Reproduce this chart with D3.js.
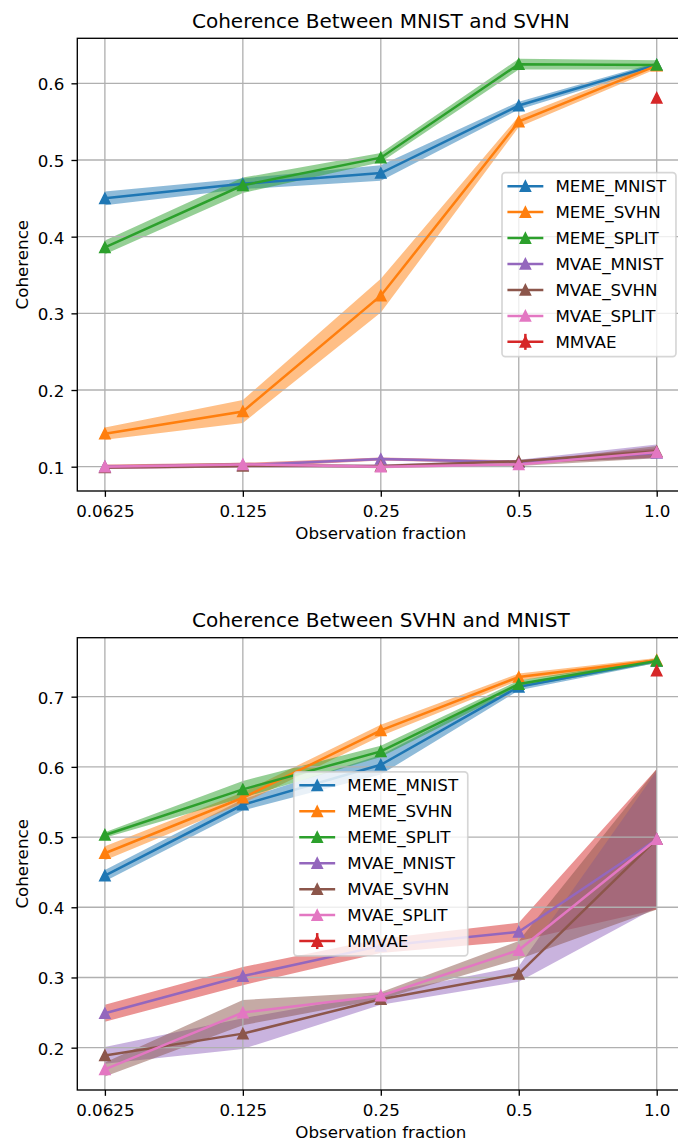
<!DOCTYPE html>
<html>
<head>
<meta charset="utf-8">
<script src="https://cdn.jsdelivr.net/npm/d3@7"></script>
<style>
  body { margin: 0; background: #fff; }
  text { font-family: "DejaVu Sans", sans-serif; fill: #000; }
</style>
</head>
<body>
<div id="chart"></div>
<script>
// x values and tick labels
var fractions = [0.0625, 0.125, 0.25, 0.5, 1.0];
var fractionLabels = ["0.0625", "0.125", "0.25", "0.5", "1.0"];
var seriesNames = ["MEME_MNIST", "MEME_SVHN", "MEME_SPLIT", "MVAE_MNIST", "MVAE_SVHN", "MVAE_SPLIT", "MMVAE"];
var lineColors = ["#1f77b4", "#ff7f0e", "#2ca02c", "#9467bd", "#8c564b", "#e377c2", "#d62728"];
// the shaded bands of the MVAE runs come out in shifted colours in the original
var bandColors = ["#1f77b4", "#ff7f0e", "#2ca02c", "#d62728", "#9467bd", "#8c564b"];

// Coherence Between MNIST and SVHN (mean, std)
var msMemeMnist = [0.450, 0.469, 0.483, 0.571, 0.624];
var msMemeMnistSd = [0.009, 0.007, 0.010, 0.005, 0.003];
var msMemeSvhn = [0.143, 0.172, 0.323, 0.550, 0.623];
var msMemeSvhnSd = [0.008, 0.015, 0.022, 0.007, 0.004];
var msMemeSplit = [0.386, 0.467, 0.503, 0.625, 0.624];
var msMemeSplitSd = [0.009, 0.010, 0.006, 0.007, 0.006];
var msMvaeMnist = [0.100, 0.102, 0.110, 0.106, 0.118];
var msMvaeMnistSd = [0.003, 0.003, 0.002, 0.002, 0.006];
var msMvaeSvhn = [0.099, 0.101, 0.101, 0.107, 0.120];
var msMvaeSvhnSd = [0.002, 0.002, 0.002, 0.002, 0.009];
var msMvaeSplit = [0.100, 0.103, 0.100, 0.103, 0.119];
var msMvaeSplitSd = [0.002, 0.002, 0.002, 0.002, 0.008];
var msMmvae = 0.581, msMmvaeSd = 0.004;

// Coherence Between SVHN and MNIST (mean, std)
var smMemeMnist = [0.445, 0.546, 0.603, 0.714, 0.751];
var smMemeMnistSd = [0.008, 0.008, 0.014, 0.005, 0.003];
var smMemeSvhn = [0.477, 0.556, 0.652, 0.728, 0.752];
var smMemeSvhnSd = [0.010, 0.008, 0.008, 0.005, 0.003];
var smMemeSplit = [0.503, 0.568, 0.622, 0.718, 0.751];
var smMemeSplitSd = [0.004, 0.012, 0.008, 0.005, 0.003];
var smMvaeMnist = [0.249, 0.302, 0.345, 0.365, 0.497];
var smMvaeMnistSd = [0.012, 0.013, 0.010, 0.013, 0.100];
var smMvaeSvhn = [0.189, 0.220, 0.269, 0.305, 0.497];
var smMvaeSvhnSd = [0.012, 0.022, 0.008, 0.011, 0.097];
var smMvaeSplit = [0.169, 0.250, 0.274, 0.339, 0.497];
var smMvaeSplitSd = [0.010, 0.018, 0.005, 0.013, 0.100];
var smMmvae = 0.737, smMmvaeSd = 0.006;

var W = 678, H = 1142;
var pt = 1.67;               // px per point
var fs = 10 * pt, fsTitle = 12 * pt;
var lw = 1.5 * pt, ms = 6 * pt;

var svg = d3.select("#chart").append("svg")
  .attr("width", W).attr("height", H);
svg.append("rect").attr("width", W).attr("height", H).attr("fill", "#fff");

var axLeft = 77.3, axRight = 684.3;
var x = d3.scaleLog().base(2)
  .domain([fractions[0] / Math.pow(2, 0.2), fractions[fractions.length - 1] * Math.pow(2, 0.2)])
  .range([axLeft, axRight]);

// matplotlib '^' marker
function triangle(s) {
  var h = s / 2;
  return "M0," + (-h) + "L" + (-h) + "," + h + "L" + h + "," + h + "Z";
}

var panels = [
  {
    title: "Coherence Between MNIST and SVHN",
    means: [msMemeMnist, msMemeSvhn, msMemeSplit, msMvaeMnist, msMvaeSvhn, msMvaeSplit],
    sds: [msMemeMnistSd, msMemeSvhnSd, msMemeSplitSd, msMvaeMnistSd, msMvaeSvhnSd, msMvaeSplitSd],
    mmvae: msMmvae, mmvaeSd: msMmvaeSd,
    top: 38.3, bottom: 491, yDomain: [0.0683, 0.6587],
    yTicks: [0.1, 0.2, 0.3, 0.4, 0.5, 0.6],
    legend: "right"
  },
  {
    title: "Coherence Between SVHN and MNIST",
    means: [smMemeMnist, smMemeSvhn, smMemeSplit, smMvaeMnist, smMvaeSvhn, smMvaeSplit],
    sds: [smMemeMnistSd, smMemeSvhnSd, smMemeSplitSd, smMvaeMnistSd, smMvaeSvhnSd, smMvaeSplitSd],
    mmvae: smMmvae, mmvaeSd: smMmvaeSd,
    top: 637.7, bottom: 1090, yDomain: [0.1397, 0.784],
    yTicks: [0.2, 0.3, 0.4, 0.5, 0.6, 0.7],
    legend: "center"
  }
];

panels.forEach(function(p, pi) {
  var y = d3.scaleLinear().domain(p.yDomain).range([p.bottom, p.top]);
  var g = svg.append("g");
  var clipId = "clip" + pi;
  g.append("clipPath").attr("id", clipId)
    .append("rect")
    .attr("x", axLeft).attr("y", p.top)
    .attr("width", axRight - axLeft).attr("height", p.bottom - p.top);

  var plot = g.append("g").attr("clip-path", "url(#" + clipId + ")");

  // bands first (lowest zorder)
  p.means.forEach(function(m, i) {
    var sd = p.sds[i];
    var area = d3.area()
      .x(function(d, k) { return x(fractions[k]); })
      .y0(function(d, k) { return y(m[k] - sd[k]); })
      .y1(function(d, k) { return y(m[k] + sd[k]); });
    plot.append("path")
      .datum(m)
      .attr("d", area)
      .attr("fill", bandColors[i])
      .attr("fill-opacity", 0.5);
  });

  // grid
  plot.selectAll(".vgrid").data(fractions).enter().append("line")
    .attr("x1", function(d) { return x(d); }).attr("x2", function(d) { return x(d); })
    .attr("y1", p.top).attr("y2", p.bottom)
    .attr("stroke", "#b0b0b0").attr("stroke-width", 0.8 * pt);
  plot.selectAll(".hgrid").data(p.yTicks).enter().append("line")
    .attr("x1", axLeft).attr("x2", axRight)
    .attr("y1", function(d) { return y(d); }).attr("y2", function(d) { return y(d); })
    .attr("stroke", "#b0b0b0").attr("stroke-width", 0.8 * pt);

  // lines + markers
  var line = d3.line()
    .x(function(d, k) { return x(fractions[k]); })
    .y(function(d) { return y(d); });
  p.means.forEach(function(m, i) {
    plot.append("path")
      .datum(m)
      .attr("d", line)
      .attr("fill", "none")
      .attr("stroke", lineColors[i])
      .attr("stroke-width", lw);
    plot.selectAll(".mk" + i).data(m).enter().append("path")
      .attr("d", triangle(ms))
      .attr("transform", function(d, k) { return "translate(" + x(fractions[k]) + "," + y(d) + ")"; })
      .attr("fill", lineColors[i])
      .attr("stroke", lineColors[i])
      .attr("stroke-width", pt);
  });

  // MMVAE error bar at full observation
  var xm = x(fractions[fractions.length - 1]);
  plot.append("line")
    .attr("x1", xm).attr("x2", xm)
    .attr("y1", y(p.mmvae - p.mmvaeSd)).attr("y2", y(p.mmvae + p.mmvaeSd))
    .attr("stroke", lineColors[6]).attr("stroke-width", lw);
  plot.append("path")
    .attr("d", triangle(ms))
    .attr("transform", "translate(" + xm + "," + y(p.mmvae) + ")")
    .attr("fill", lineColors[6]).attr("stroke", lineColors[6]).attr("stroke-width", pt);

  // axes
  var xAxis = g.append("g")
    .attr("transform", "translate(0," + p.bottom + ")")
    .call(d3.axisBottom(x).tickValues(fractions)
      .tickFormat(function(d, k) { return fractionLabels[k]; })
      .tickSize(3.5 * pt).tickPadding(8.6).tickSizeOuter(0));
  var yAxis = g.append("g")
    .attr("transform", "translate(" + axLeft + ",0)")
    .call(d3.axisLeft(y).tickValues(p.yTicks).tickFormat(d3.format(".1f"))
      .tickSize(3.5 * pt).tickPadding(7.2).tickSizeOuter(0));
  [xAxis, yAxis].forEach(function(a) {
    a.select(".domain").remove();
    a.selectAll(".tick line").attr("stroke", "#000").attr("stroke-width", 0.8 * pt);
    a.selectAll(".tick text").attr("font-size", fs).attr("font-family", "DejaVu Sans").attr("fill", "#000");
  });
  yAxis.selectAll(".tick text").attr("dy", "0.38em");

  // spines
  g.append("rect")
    .attr("x", axLeft).attr("y", p.top)
    .attr("width", axRight - axLeft).attr("height", p.bottom - p.top)
    .attr("fill", "none").attr("stroke", "#000").attr("stroke-width", 0.8 * pt);

  // title and labels
  var cx = (axLeft + axRight) / 2;
  g.append("text").attr("x", cx).attr("y", p.top - 10.8)
    .attr("text-anchor", "middle").attr("font-size", fsTitle).text(p.title);
  g.append("text").attr("x", cx).attr("y", p.bottom + 48)
    .attr("text-anchor", "middle").attr("font-size", fs).text("Observation fraction");
  g.append("text")
    .attr("transform", "translate(28.3," + ((p.top + p.bottom) / 2) + ") rotate(-90)")
    .attr("text-anchor", "middle").attr("font-size", fs).text("Coherence");

  // legend
  var lg = g.append("g");
  var box = lg.append("rect");
  var labels = lg.selectAll(".lbl").data(seriesNames).enter().append("text")
    .attr("font-size", fs)
    .text(function(d) { return d; });
  var maxW = 0;
  labels.each(function() { maxW = Math.max(maxW, this.getComputedTextLength()); });
  var bw = 3.6 * fs + maxW + 3, bh = 184, step = 25.95;
  var bx = p.legend === "right" ? axRight - 0.5 * fs - bw : cx - bw / 2;
  var by = (p.top + p.bottom) / 2 - bh / 2;
  box.attr("x", bx).attr("y", by).attr("width", bw).attr("height", bh)
    .attr("rx", 0.2 * fs).attr("ry", 0.2 * fs)
    .attr("fill", "#fff").attr("fill-opacity", 0.8)
    .attr("stroke", "#cccccc").attr("stroke-opacity", 0.8).attr("stroke-width", pt);
  var hx0 = bx + 0.4 * fs, hx1 = hx0 + 2 * fs;
  labels.attr("x", hx1 + 0.8 * fs)
    .attr("y", function(d, i) { return by + 13.5 + i * step; })
    .attr("dy", "0.36em");
  seriesNames.forEach(function(name, i) {
    var yy = by + 13.5 + i * step;
    lg.append("line").attr("x1", hx0).attr("x2", hx1).attr("y1", yy).attr("y2", yy)
      .attr("stroke", lineColors[i]).attr("stroke-width", lw).attr("stroke-linecap", "square");
    if (i === 6) {
      lg.append("line").attr("x1", (hx0 + hx1) / 2).attr("x2", (hx0 + hx1) / 2)
        .attr("y1", yy - 8).attr("y2", yy + 8)
        .attr("stroke", lineColors[i]).attr("stroke-width", lw);
    }
    lg.append("path").attr("d", triangle(ms))
      .attr("transform", "translate(" + ((hx0 + hx1) / 2) + "," + yy + ")")
      .attr("fill", lineColors[i]).attr("stroke", lineColors[i]).attr("stroke-width", pt);
  });
});
</script>
</body>
</html>
